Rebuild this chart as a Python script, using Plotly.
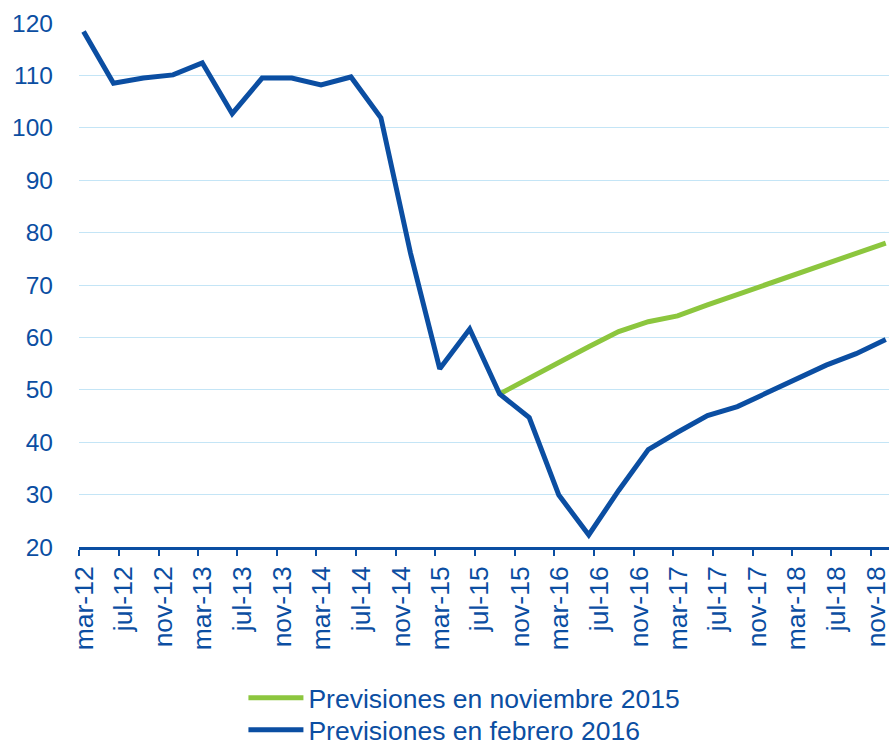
import plotly.graph_objects as go

# Quarterly observations (Q1 2012 - Q4 2018)
quarters = [
    "2012-03-15", "2012-06-15", "2012-09-15", "2012-12-15",
    "2013-03-15", "2013-06-15", "2013-09-15", "2013-12-15",
    "2014-03-15", "2014-06-15", "2014-09-15", "2014-12-15",
    "2015-03-15", "2015-06-15", "2015-09-15", "2015-12-15",
    "2016-03-15", "2016-06-15", "2016-09-15", "2016-12-15",
    "2017-03-15", "2017-06-15", "2017-09-15", "2017-12-15",
    "2018-03-15", "2018-06-15", "2018-09-15", "2018-12-15",
]

prev_nov_2015 = [
    None, None, None, None, None, None, None, None, None, None, None, None, None, None,
    49.2, 52.3, 55.2, 58.2, 61.1, 63.0, 64.1, 66.2, 68.2, 70.2, 72.1, 74.1, 76.0, 78.0,
]

prev_feb_2016 = [
    118.4, 108.5, 109.5, 110.1, 112.4, 102.7, 109.5, 109.5, 108.2, 109.7,
    101.9, 76.1, 54.0, 61.6, 49.2, 44.7, 29.9, 22.3, 30.8, 38.6,
    41.9, 45.1, 46.8, 49.4, 52.0, 54.7, 56.9, 59.6,
]

tick_dates = [
    "2012-03-01", "2012-07-01", "2012-11-01", "2013-03-01", "2013-07-01", "2013-11-01",
    "2014-03-01", "2014-07-01", "2014-11-01", "2015-03-01", "2015-07-01", "2015-11-01",
    "2016-03-01", "2016-07-01", "2016-11-01", "2017-03-01", "2017-07-01", "2017-11-01",
    "2018-03-01", "2018-07-01", "2018-11-01",
]
tick_labels = [
    "mar-12", "jul-12", "nov-12", "mar-13", "jul-13", "nov-13",
    "mar-14", "jul-14", "nov-14", "mar-15", "jul-15", "nov-15",
    "mar-16", "jul-16", "nov-16", "mar-17", "jul-17", "nov-17",
    "mar-18", "jul-18", "nov-18",
]

BLUE = "#0B4EA2"
GREEN = "#8CC63E"
GRID = "#C4E5F6"
FONT = "Liberation Sans, Arial, sans-serif"

fig = go.Figure()
fig.add_trace(go.Scatter(
    x=quarters, y=prev_nov_2015, mode="lines", name="Previsiones en noviembre 2015",
    line=dict(color=GREEN, width=5), connectgaps=False, cliponaxis=False,
    legend="legend",
))
fig.add_trace(go.Scatter(
    x=quarters, y=prev_feb_2016, mode="lines", name="Previsiones en febrero 2016",
    line=dict(color=BLUE, width=5), cliponaxis=False,
    legend="legend2",
))

legend_style = dict(
    orientation="v", x=0.203, xanchor="left", yanchor="top",
    font=dict(size=26.5, color=BLUE), itemwidth=55, bgcolor="rgba(0,0,0,0)",
)

fig.update_layout(
    width=889, height=741,
    margin=dict(l=79, r=0, t=23, b=194, autoexpand=False),
    paper_bgcolor="white", plot_bgcolor="white",
    font=dict(family=FONT, color=BLUE, size=25),
    showlegend=True,
    legend=dict(legend_style, y=-0.2424),
    legend2=dict(legend_style, y=-0.3034),
)
fig.update_xaxes(
    type="date", range=["2012-03-01", "2018-12-25"], automargin=False,
    tickmode="array", tickvals=tick_dates, ticktext=tick_labels,
    tickangle=-90, tickfont=dict(size=26.5, color=BLUE), ticklabelshift=5,
    ticklabelstandoff=0, ticklabeloverflow="allow",
    showline=True, linecolor=BLUE, linewidth=2.5,
    ticks="outside", ticklen=6, tickwidth=2, tickcolor=BLUE,
    showgrid=False, zeroline=False,
)
fig.update_yaxes(
    range=[20, 120], tickmode="linear", tick0=20, dtick=10, automargin=False,
    tickfont=dict(size=24.5, color=BLUE),
    showgrid=True, gridcolor=GRID, gridwidth=1.2,
    showline=False, zeroline=False, ticks="", ticklabelstandoff=25,
)

# remove the default page margin so the figure fills the window exactly
fig.write_html(
    "out.html",
    config={"displayModeBar": False},
    post_script="document.body.style.margin='0';document.body.style.overflow='hidden';",
)
